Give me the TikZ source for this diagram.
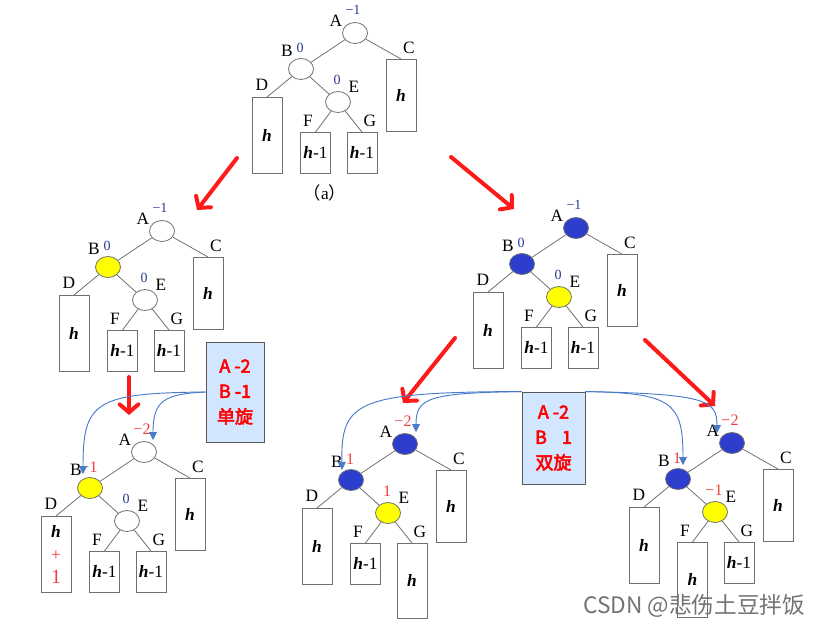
\documentclass[tikz,border=0pt]{standalone}
\usepackage{fontspec}
\setmainfont{Liberation Serif}
\newfontfamily\cjk{Noto Sans CJK SC}
\newfontfamily\cjkb{Noto Sans CJK SC}[FakeBold=3]
\usetikzlibrary{shapes.geometric,arrows.meta}
\definecolor{nblue}{HTML}{2E3ECC}
\definecolor{nyel}{HTML}{FFFF00}
\definecolor{bnum}{HTML}{2A3A90}
\definecolor{rnum}{HTML}{F04040}
\definecolor{rarr}{HTML}{FF1A1A}
\definecolor{barr}{HTML}{4A7BC8}
\definecolor{boxfill}{HTML}{D2E6FF}
\definecolor{edgec}{HTML}{707070}
\newcommand\hh{\textbf{\textit{h}}}
\newcommand\fs[1]{\fontsize{#1}{#1}\selectfont}
\tikzset{
  vnode/.style={ellipse,draw=edgec,line width=0.6pt,minimum width=18.75pt,minimum height=15.75pt,inner sep=0pt},
  rbox/.style={draw=edgec,line width=0.6pt,fill=white,minimum width=22.5pt,inner sep=0pt,anchor=north,align=center,font=\fs{13pt}},
  tedge/.style={draw=edgec,line width=0.6pt},
  letter/.style={inner sep=0pt,font=\fs{13pt}},
  bal/.style={inner sep=0pt,font=\fs{10.5pt},text=bnum},
  rbal/.style={inner sep=0pt,font=\fs{12pt},text=rnum},
  redarrow/.style={draw=rarr,line width=3pt,line cap=round,-{Straight Barb[length=6pt,width=14pt,line cap=round]}},
  bluearrow/.style={draw=barr,line width=0.7pt,-{Triangle[length=6pt,width=6pt]}},
  infobox/.style={draw=black!65,line width=0.7pt,fill=boxfill,inner sep=0pt,align=center,
     text=red,font=\cjkb\fs{13.5pt}}
}
% parameters set by \def before each call
\newcommand\avltree[2]{%
\begin{scope}[shift={#2}]
  \node[vnode,fill=\fA] (#1A) at (355,33) {};
  \node[vnode,fill=\fB] (#1B) at (301,69) {};
  \node[vnode,fill=\fE] (#1E) at (338,102) {};
  \node[rbox,minimum height=54pt] (#1C) at (401,59) {\hh};
  \node[rbox,minimum height=57pt] (#1D) at (267,97) {\Dtxt};
  \node[rbox,minimum height=\Fh] (#1F) at (315.5,132) {\Ftxt};
  \node[rbox,minimum height=\Gh] (#1G) at (362,132) {\Gtxt};
  \draw[tedge] (#1A) -- (#1B);
  \draw[tedge] (#1A) -- (#1C.north);
  \draw[tedge] (#1B) -- (#1D.north);
  \draw[tedge] (#1B) -- (#1E);
  \draw[tedge] (#1E) -- (#1F.north);
  \draw[tedge] (#1E) -- (#1G.north);
  \node[letter] (#1lA) at (336,21) {A};
  \node[letter] (#1lB) at (287,51) {B};
  \node[letter] (#1lC) at (409,48) {C};
  \node[letter] (#1lD) at (262,85) {D};
  \node[letter] (#1lE) at (354,87) {E};
  \node[letter] (#1lF) at (308,121) {F};
  \node[letter] (#1lG) at (370,121) {G};
  \node[\bstyle] (#1bA) at (353,10) {\bA};
  \node[\bstyle] (#1bB) at (300,48) {\bB};
  \node[\bstyle] (#1bE) at (337,80) {\bE};
\end{scope}}
\begin{document}
\begin{tikzpicture}[x=0.75pt,y=-0.75pt]
\useasboundingbox (0,0) rectangle (832,626);
% ---- tree (a)
\def\fA{white}\def\fB{white}\def\fE{white}
\def\Dtxt{\hh}\def\Fh{30.75pt}\def\Gh{30.75pt}\def\Ftxt{\hh-1}\def\Gtxt{\hh-1}
\def\bstyle{bal}\def\bA{−1}\def\bB{0}\def\bE{0}
\avltree{T}{(0,0)}
\node[inner sep=0pt,font=\fs{13pt}] (cap) at (325,193) {{\cjk （}a{\cjk ）}};
% ---- left middle
\def\fB{nyel}
\avltree{L}{(-193,198)}
% ---- right middle
\def\fA{nblue}\def\fB{nblue}\def\fE{nyel}
\avltree{R}{(221,195)}
% ---- bottom left
\def\fA{white}\def\fB{nyel}\def\fE{white}
\def\Dtxt{\hh\\[4pt]{\color{rnum}+}\\[4pt]{\color{rnum}\fs{15pt}1}}
\def\bstyle{rbal}\def\bA{−2}\def\bB{−1}\def\bE{\color{bnum}\fs{10.5pt}0}
\avltree{BL}{(-211,419)}
% ---- bottom middle
\def\fA{nblue}\def\fB{nblue}\def\fE{nyel}
\def\Dtxt{\hh}\def\Gh{56.25pt}\def\Gtxt{\hh}
\def\bA{−2}\def\bB{1}\def\bE{1}
\avltree{BM}{(50,411)}
% ---- bottom right
\def\Fh{56.25pt}\def\Ftxt{\hh}\def\Gh{30.75pt}\def\Gtxt{\hh-1}
\def\bA{−2}\def\bB{1}\def\bE{−1}
\avltree{BR}{(377,410)}
% ---- info boxes
\node[infobox,minimum width=43.5pt,minimum height=75pt] (boxL) at (235,392)
  {A -2\\[5.5pt]B -1\\[5.5pt]单旋};
\node[infobox,minimum width=47.25pt,minimum height=69pt] (boxM) at (553.5,438)
  {A -2\\[5.5pt]B\ \ \ \,1\\[5.5pt]双旋};
% ---- red arrows
\coordinate (r1s) at (237,158); \coordinate (r1e) at (197,210);
\coordinate (r2s) at (451,157); \coordinate (r2e) at (514,209);
\coordinate (r3s) at (129,377); \coordinate (r3e) at (129,415);
\coordinate (r4s) at (455,338); \coordinate (r4e) at (403,403);
\coordinate (r5s) at (645,340); \coordinate (r5e) at (715,406);
\draw[redarrow] (r1s) -- (r1e);
\draw[redarrow] (r2s) -- (r2e);
\draw[redarrow] (r3s) -- (r3e);
\draw[redarrow] (r4s) -- (r4e);
\draw[redarrow] (r5s) -- (r5e);
% ---- blue arrows
\coordinate (bl1) at (83,474); \coordinate (bl2) at (153,440);
\coordinate (bm1) at (342,470); \coordinate (bm2) at (416,432);
\coordinate (br1) at (683,465); \coordinate (br2) at (717,433);
\draw[bluearrow] (boxL.west) .. controls (95,393) and (83,402) .. (bl1);
\draw[bluearrow] (boxL.west) .. controls (165,394) and (153,400) .. (bl2);
\draw[bluearrow] (boxM.north west) .. controls (355,392) and (341,402) .. (bm1);
\draw[bluearrow] (boxM.north west) .. controls (428,393) and (416,398) .. (bm2);
\draw[bluearrow] (boxM.north east) .. controls (672,393) and (683,402) .. (br1);
\draw[bluearrow] (boxM.north east) .. controls (706,394) and (717,400) .. (br2);
% ---- watermark
\node[anchor=west,inner sep=0pt,text=black!55,font=\cjk\fs{17pt}] (wm) at (583,606) {CSDN @悲伤土豆拌饭};
\end{tikzpicture}
\end{document}
